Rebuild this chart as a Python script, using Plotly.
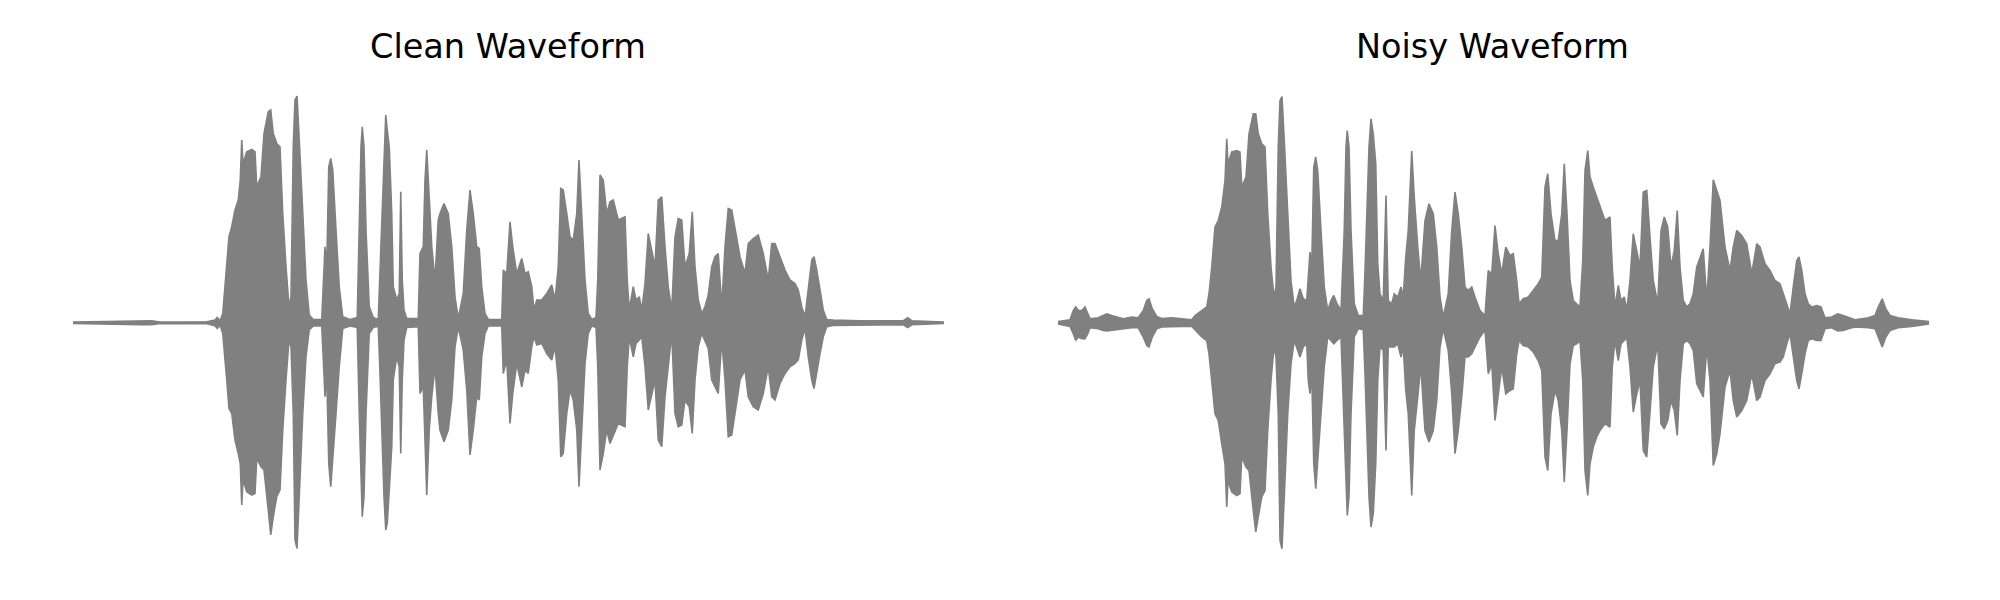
import plotly.graph_objects as go

# ---- Clean waveform envelope (time in s, upper / lower amplitude) ----
clean_t = [
    0.000, 0.268, 0.315, 0.348, 0.535, 0.568, 0.577, 0.588, 0.599, 0.604,
    0.615, 0.624, 0.635, 0.648, 0.661, 0.669, 0.675, 0.680, 0.695, 0.715,
    0.728, 0.735, 0.752, 0.764, 0.781, 0.791, 0.801, 0.815, 0.828, 0.839,
    0.852, 0.864, 0.872, 0.881, 0.888, 0.896, 0.905, 0.919, 0.932, 0.945,
    0.961, 0.995, 1.001, 1.008, 1.015, 1.023, 1.031, 1.039, 1.052, 1.065,
    1.079, 1.108, 1.137, 1.145, 1.152, 1.157, 1.164, 1.172, 1.185,
    1.201, 1.221, 1.228, 1.244, 1.251, 1.257, 1.265, 1.275, 1.281, 1.295,
    1.305, 1.311, 1.317, 1.324, 1.335, 1.381, 1.388, 1.401, 1.408, 1.415,
    1.425, 1.435, 1.448, 1.461, 1.468, 1.484, 1.501, 1.515, 1.528, 1.541,
    1.561, 1.575, 1.588, 1.601, 1.615, 1.625, 1.635, 1.648, 1.661, 1.715,
    1.721, 1.735, 1.748, 1.759, 1.775, 1.795, 1.808, 1.821, 1.835, 1.844,
    1.855, 1.875, 1.895, 1.915, 1.928, 1.941, 1.951, 1.961, 1.975, 1.988,
    2.001, 2.015, 2.024, 2.035, 2.048, 2.061, 2.075, 2.092, 2.099, 2.108,
    2.121, 2.135, 2.148, 2.161, 2.181, 2.208, 2.217, 2.225, 2.241, 2.252,
    2.265, 2.275, 2.288, 2.301, 2.315, 2.328, 2.341,
    2.355, 2.368, 2.381, 2.395, 2.408, 2.421, 2.435, 2.448, 2.465, 2.477,
    2.488, 2.501, 2.515, 2.528, 2.541, 2.555, 2.568, 2.581, 2.595, 2.608,
    2.621, 2.635, 2.648, 2.668, 2.688, 2.701, 2.721, 2.741, 2.761, 2.781,
    2.795, 2.808, 2.828, 2.848, 2.868, 2.888, 2.901, 2.915, 2.928, 2.941,
    2.955, 2.964, 2.975, 2.988, 3.001, 3.015, 3.041, 3.148, 3.321, 3.339,
    3.355, 3.481,
]
clean_max = [
    0.003, 0.008, 0.008, 0.003, 0.004, 0.011, 0.021, 0.008, 0.037, 0.097,
    0.224, 0.344, 0.384, 0.451, 0.491, 0.571, 0.731, 0.637, 0.684, 0.693,
    0.684, 0.544, 0.584, 0.757, 0.844, 0.851, 0.757, 0.717, 0.704, 0.437,
    0.224, 0.064, 0.104, 0.704, 0.891, 0.907, 0.731, 0.437, 0.171, 0.031,
    0.013, 0.013, 0.171, 0.304, 0.224, 0.624, 0.657, 0.611, 0.371, 0.144,
    0.024, 0.013, 0.021, 0.371, 0.704, 0.784, 0.704, 0.371, 0.064,
    0.021, 0.013, 0.204, 0.704, 0.831, 0.771, 0.704, 0.437, 0.144, 0.091,
    0.117, 0.524, 0.171, 0.051, 0.017, 0.017, 0.277, 0.304, 0.571, 0.691,
    0.504, 0.304, 0.171, 0.411, 0.437, 0.477, 0.437, 0.304, 0.104, 0.017,
    0.117, 0.371, 0.531, 0.437, 0.304, 0.297, 0.144, 0.037, 0.013, 0.013,
    0.211, 0.197, 0.404, 0.304, 0.197, 0.257, 0.197, 0.204, 0.144, 0.051,
    0.091, 0.091, 0.117, 0.151, 0.091, 0.224, 0.537, 0.531, 0.437, 0.344,
    0.331, 0.437, 0.651, 0.437, 0.171, 0.037, 0.013, 0.021, 0.171, 0.591,
    0.571, 0.437, 0.484, 0.491, 0.411, 0.424, 0.171, 0.051, 0.144, 0.091,
    0.104, 0.051, 0.157, 0.357, 0.291, 0.224, 0.491,
    0.504, 0.304, 0.144, 0.051, 0.344, 0.417, 0.411, 0.224, 0.277, 0.444,
    0.224, 0.091, 0.037, 0.064, 0.111, 0.224, 0.264, 0.277, 0.064, 0.304,
    0.457, 0.451, 0.371, 0.264, 0.197, 0.317, 0.337, 0.351, 0.277, 0.171,
    0.317, 0.317, 0.264, 0.211, 0.171, 0.157, 0.131, 0.064, 0.024, 0.144,
    0.251, 0.264, 0.211, 0.131, 0.051, 0.013, 0.011, 0.008, 0.008, 0.020,
    0.008, 0.003,
]
clean_min = [
    -0.003, -0.008, -0.008, -0.003, -0.004, -0.012, -0.023, -0.009, -0.043, -0.096,
    -0.229, -0.343, -0.363, -0.469, -0.523, -0.563, -0.729, -0.629, -0.676, -0.689,
    -0.683, -0.543, -0.576, -0.589, -0.749, -0.849, -0.776, -0.696, -0.669, -0.429,
    -0.229, -0.069, -0.096, -0.363, -0.869, -0.903, -0.696, -0.363, -0.136, -0.029,
    -0.013, -0.013, -0.163, -0.296, -0.203, -0.563, -0.656, -0.563, -0.363, -0.176,
    -0.023, -0.013, -0.019, -0.363, -0.629, -0.776, -0.696, -0.363, -0.043,
    -0.019, -0.013, -0.203, -0.696, -0.829, -0.803, -0.669, -0.496, -0.229, -0.136,
    -0.176, -0.523, -0.229, -0.069, -0.019, -0.016, -0.283, -0.256, -0.496, -0.689,
    -0.429, -0.296, -0.176, -0.363, -0.429, -0.476, -0.429, -0.309, -0.096, -0.016,
    -0.109, -0.269, -0.529, -0.429, -0.296, -0.309, -0.136, -0.043, -0.013, -0.013,
    -0.203, -0.149, -0.403, -0.283, -0.163, -0.256, -0.189, -0.203, -0.096, -0.056,
    -0.089, -0.083, -0.123, -0.149, -0.096, -0.229, -0.536, -0.523, -0.363, -0.269,
    -0.309, -0.429, -0.656, -0.429, -0.163, -0.043, -0.013, -0.019, -0.176, -0.589,
    -0.523, -0.429, -0.483, -0.456, -0.403, -0.416, -0.176, -0.056, -0.136, -0.083,
    -0.069, -0.056, -0.176, -0.349, -0.283, -0.229, -0.469,
    -0.496, -0.296, -0.163, -0.043, -0.363, -0.416, -0.409, -0.309, -0.336, -0.443,
    -0.229, -0.096, -0.043, -0.069, -0.103, -0.229, -0.256, -0.283, -0.069, -0.229,
    -0.456, -0.449, -0.363, -0.229, -0.189, -0.296, -0.336, -0.349, -0.283, -0.176,
    -0.296, -0.309, -0.243, -0.203, -0.176, -0.163, -0.149, -0.069, -0.023, -0.136,
    -0.229, -0.263, -0.203, -0.123, -0.056, -0.016, -0.011, -0.008, -0.008, -0.019,
    -0.008, -0.003,
]

# ---- Noisy waveform envelope ----
noisy_t = [
    0.000, 0.048, 0.061, 0.071, 0.081, 0.095, 0.108, 0.119, 0.128, 0.161,
    0.181, 0.195, 0.215, 0.235, 0.261, 0.295, 0.321, 0.341, 0.355, 0.364,
    0.377, 0.395, 0.415, 0.455, 0.495, 0.535, 0.548, 0.575, 0.595, 0.604,
    0.615, 0.628, 0.641, 0.655, 0.668, 0.675, 0.680, 0.695, 0.715, 0.728,
    0.735, 0.752, 0.764, 0.781, 0.791, 0.801, 0.815, 0.828, 0.839, 0.852,
    0.864, 0.872, 0.881, 0.888, 0.896, 0.905, 0.919, 0.932, 0.945, 0.955,
    0.968, 0.981, 0.995, 1.001, 1.008, 1.015, 1.023, 1.031, 1.039, 1.052,
    1.065, 1.079, 1.092, 1.103, 1.116, 1.132, 1.145, 1.152, 1.157, 1.164,
    1.172, 1.185,
    1.201, 1.221, 1.228, 1.244, 1.252, 1.261, 1.271, 1.279, 1.288, 1.301,
    1.312, 1.321, 1.335, 1.345, 1.359, 1.372, 1.381, 1.391, 1.401, 1.415,
    1.425, 1.439, 1.451, 1.468, 1.484, 1.501, 1.515, 1.528, 1.541, 1.561,
    1.575, 1.588, 1.601, 1.615, 1.628, 1.641, 1.655, 1.668, 1.688, 1.708,
    1.721, 1.735, 1.748, 1.761, 1.775, 1.791, 1.808, 1.821, 1.835, 1.844,
    1.861, 1.881, 1.901, 1.921, 1.935, 1.948, 1.959, 1.972, 1.988, 2.001,
    2.015, 2.025, 2.036, 2.048, 2.061, 2.075, 2.088, 2.099, 2.108, 2.119,
    2.128, 2.141, 2.155, 2.168, 2.188, 2.208, 2.217, 2.228, 2.241, 2.252,
    2.265, 2.275, 2.288, 2.301, 2.315, 2.328, 2.341,
    2.355, 2.368, 2.381, 2.399, 2.412, 2.425, 2.439, 2.452, 2.465, 2.477,
    2.488, 2.501, 2.515, 2.528, 2.541, 2.555, 2.568, 2.581, 2.595, 2.608,
    2.621, 2.635, 2.648, 2.668, 2.688, 2.701, 2.715, 2.735, 2.755, 2.775,
    2.795, 2.808, 2.828, 2.848, 2.868, 2.888, 2.901, 2.915, 2.928, 2.941,
    2.955, 2.964, 2.975, 2.988, 3.001, 3.015, 3.035, 3.052, 3.068, 3.095,
    3.119, 3.141, 3.161, 3.188, 3.215, 3.241, 3.268, 3.281, 3.297, 3.311,
    3.328, 3.361, 3.415, 3.481,
]
noisy_max = [
    0.005, 0.012, 0.049, 0.063, 0.049, 0.049, 0.063, 0.036, 0.016, 0.020,
    0.029, 0.036, 0.029, 0.023, 0.016, 0.023, 0.020, 0.049, 0.089, 0.096,
    0.056, 0.025, 0.017, 0.020, 0.016, 0.012, 0.029, 0.049, 0.063, 0.116,
    0.223, 0.383, 0.409, 0.463, 0.569, 0.736, 0.636, 0.683, 0.689, 0.683,
    0.543, 0.583, 0.756, 0.836, 0.836, 0.756, 0.716, 0.703, 0.436, 0.223,
    0.103, 0.143, 0.703, 0.889, 0.905, 0.729, 0.436, 0.169, 0.063, 0.089,
    0.136, 0.096, 0.089, 0.169, 0.283, 0.223, 0.623, 0.663, 0.609, 0.369,
    0.143, 0.049, 0.089, 0.109, 0.076, 0.049, 0.369, 0.703, 0.769, 0.703,
    0.369, 0.076,
    0.029, 0.029, 0.203, 0.703, 0.816, 0.756, 0.636, 0.236, 0.116, 0.089,
    0.509, 0.089, 0.076, 0.116, 0.103, 0.143, 0.103, 0.263, 0.369, 0.687,
    0.503, 0.303, 0.169, 0.409, 0.476, 0.436, 0.303, 0.103, 0.023, 0.116,
    0.369, 0.523, 0.436, 0.303, 0.143, 0.129, 0.143, 0.103, 0.049, 0.029,
    0.209, 0.196, 0.389, 0.276, 0.196, 0.303, 0.269, 0.276, 0.169, 0.076,
    0.096, 0.103, 0.129, 0.156, 0.183, 0.543, 0.596, 0.436, 0.329, 0.329,
    0.436, 0.636, 0.436, 0.169, 0.089, 0.076, 0.063, 0.249, 0.609, 0.689,
    0.583, 0.543, 0.503, 0.463, 0.409, 0.423, 0.223, 0.063, 0.149, 0.089,
    0.103, 0.049, 0.169, 0.356, 0.289, 0.223, 0.523,
    0.529, 0.343, 0.169, 0.076, 0.369, 0.423, 0.383, 0.223, 0.289, 0.449,
    0.223, 0.089, 0.063, 0.076, 0.116, 0.223, 0.256, 0.296, 0.089, 0.303,
    0.572, 0.529, 0.489, 0.303, 0.209, 0.303, 0.369, 0.349, 0.316, 0.196,
    0.316, 0.303, 0.236, 0.209, 0.169, 0.156, 0.116, 0.076, 0.036, 0.143,
    0.249, 0.263, 0.209, 0.116, 0.076, 0.063, 0.069, 0.063, 0.020, 0.023,
    0.036, 0.029, 0.023, 0.012, 0.016, 0.020, 0.029, 0.063, 0.096, 0.056,
    0.029, 0.020, 0.012, 0.005,
]
noisy_min = [
    -0.005, -0.015, -0.044, -0.071, -0.057, -0.064, -0.064, -0.044, -0.020, -0.024,
    -0.031, -0.033, -0.031, -0.028, -0.024, -0.020, -0.020, -0.057, -0.091, -0.097,
    -0.057, -0.024, -0.017, -0.017, -0.015, -0.015, -0.028, -0.057, -0.071, -0.124,
    -0.231, -0.364, -0.391, -0.484, -0.564, -0.737, -0.631, -0.677, -0.691, -0.684,
    -0.537, -0.577, -0.591, -0.751, -0.837, -0.777, -0.697, -0.671, -0.431, -0.231,
    -0.097, -0.137, -0.364, -0.871, -0.904, -0.697, -0.364, -0.164, -0.071, -0.097,
    -0.137, -0.097, -0.084, -0.231, -0.284, -0.204, -0.564, -0.664, -0.564, -0.364,
    -0.177, -0.057, -0.071, -0.084, -0.071, -0.057, -0.364, -0.631, -0.771, -0.697,
    -0.364, -0.057,
    -0.024, -0.028, -0.204, -0.697, -0.817, -0.764, -0.564, -0.231, -0.097, -0.111,
    -0.511, -0.097, -0.097, -0.097, -0.084, -0.137, -0.097, -0.271, -0.364, -0.691,
    -0.431, -0.297, -0.171, -0.431, -0.477, -0.431, -0.311, -0.097, -0.024, -0.111,
    -0.284, -0.524, -0.431, -0.297, -0.137, -0.137, -0.124, -0.097, -0.057, -0.028,
    -0.204, -0.164, -0.391, -0.297, -0.177, -0.284, -0.271, -0.264, -0.124, -0.071,
    -0.091, -0.097, -0.117, -0.151, -0.191, -0.537, -0.591, -0.364, -0.271, -0.311,
    -0.431, -0.637, -0.431, -0.164, -0.091, -0.084, -0.071, -0.231, -0.591, -0.691,
    -0.564, -0.497, -0.457, -0.431, -0.404, -0.417, -0.177, -0.071, -0.151, -0.084,
    -0.071, -0.057, -0.177, -0.357, -0.284, -0.231, -0.511,
    -0.537, -0.364, -0.177, -0.084, -0.404, -0.424, -0.391, -0.311, -0.351, -0.451,
    -0.231, -0.084, -0.071, -0.084, -0.111, -0.244, -0.271, -0.297, -0.097, -0.231,
    -0.571, -0.524, -0.444, -0.257, -0.191, -0.311, -0.377, -0.351, -0.311, -0.204,
    -0.311, -0.297, -0.231, -0.204, -0.164, -0.157, -0.137, -0.084, -0.044, -0.137,
    -0.231, -0.264, -0.204, -0.124, -0.071, -0.064, -0.071, -0.071, -0.024, -0.020,
    -0.033, -0.031, -0.024, -0.017, -0.020, -0.020, -0.024, -0.057, -0.097, -0.057,
    -0.031, -0.020, -0.015, -0.005,
]

titles = ["Clean Waveform", "Noisy Waveform"]

assert len(clean_t) == len(clean_max) == len(clean_min), (len(clean_t), len(clean_max), len(clean_min))
assert len(noisy_t) == len(noisy_max) == len(noisy_min), (len(noisy_t), len(noisy_max), len(noisy_min))

WAVE = "#808080"

fig = go.Figure()
for t, hi, lo, xa, ya in [(clean_t, clean_max, clean_min, "x", "y"),
                          (noisy_t, noisy_max, noisy_min, "x2", "y2")]:
    fig.add_trace(go.Scatter(
        x=list(t) + list(t)[::-1],
        y=list(hi) + list(lo)[::-1],
        mode="lines", fill="toself", fillcolor=WAVE,
        line=dict(color=WAVE, width=1.6),
        xaxis=xa, yaxis=ya, hoverinfo="skip", showlegend=False,
    ))

ax = dict(visible=False, showgrid=False, zeroline=False, fixedrange=True)
fig.update_layout(
    width=2000, height=600,
    margin=dict(l=0, r=0, t=0, b=0),
    paper_bgcolor="white", plot_bgcolor="white",
    xaxis=dict(domain=[0, 0.5], range=[-0.260, 3.740], anchor="y", **ax),
    yaxis=dict(domain=[0, 1], range=[-1.141, 1.259], anchor="x", **ax),
    xaxis2=dict(domain=[0.5, 1], range=[-0.200, 3.800], anchor="y2", **ax),
    yaxis2=dict(domain=[0, 1], range=[-1.141, 1.259], anchor="x2", **ax),
    annotations=[
        dict(text=titles[0], x=0.250, y=1 - 38 / 600, xref="paper", yref="paper",
             xanchor="center", yanchor="middle", showarrow=False,
             font=dict(family="DejaVu Sans", size=33.5, color="black")),
        dict(text=titles[1], x=0.742, y=1 - 38 / 600, xref="paper", yref="paper",
             xanchor="center", yanchor="middle", showarrow=False,
             font=dict(family="DejaVu Sans", size=33.5, color="black")),
    ],
)

fig.write_html("out.html")
